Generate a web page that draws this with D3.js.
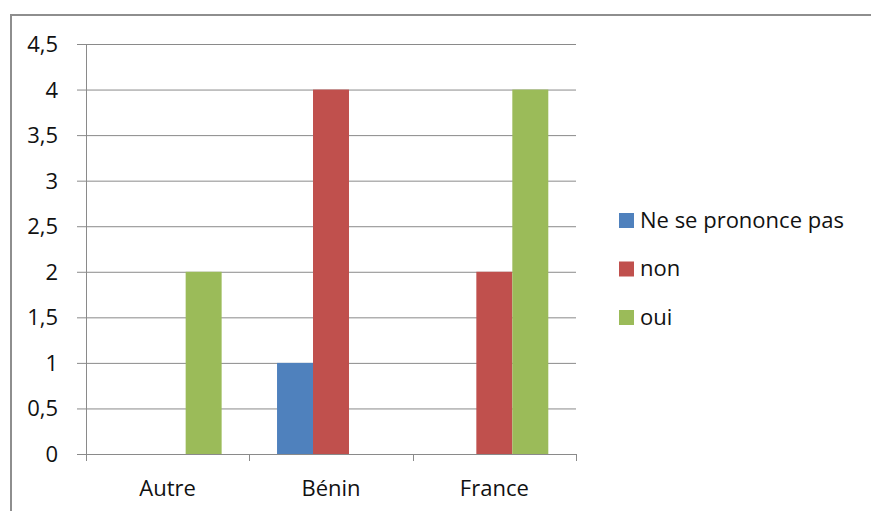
<!DOCTYPE html>
<html>
<head>
<meta charset="utf-8">
<script src="https://cdn.jsdelivr.net/npm/d3@7"></script>
<style>
    body { margin: 0; background: #fff; }
    text { font-family: "Open Sans", "Noto Sans", sans-serif; fill: #111; }
</style>
</head>
<body>
<div id="chart"></div>
<script>
const categories = ['Autre', 'Bénin', 'France'];
const series = ['Ne se prononce pas', 'non', 'oui'];
const values = {
    'Ne se prononce pas': [0, 1, 0],
    'non': [0, 4, 2],
    'oui': [2, 0, 4]
};
const yTicks = [0, 0.5, 1, 1.5, 2, 2.5, 3, 3.5, 4, 4.5];
const colors = ['#4f81bd', '#c0504d', '#9bbb59'];

const width = 871, height = 511;
const plot = { left: 86, right: 576, top: 44, bottom: 454 };
const fontSize = '22px';

let svg = d3.select('#chart').append('svg')
    .attr('width', width)
    .attr('height', height);

// chart frame
svg.append('rect')
    .attr('x', 11)
    .attr('y', 15)
    .attr('width', 880)
    .attr('height', 520)
    .attr('fill', 'none')
    .attr('stroke', '#8e8e8e')
    .attr('stroke-width', 2);

let xScale = d3.scaleBand()
    .domain(categories)
    .range([plot.left, plot.right]);

let xInner = d3.scaleBand()
    .domain(series)
    .range([0, xScale.bandwidth()])
    .paddingOuter(0.77);

let yScale = d3.scaleLinear()
    .domain([0, 4.5])
    .range([plot.bottom, plot.top]);

// gridlines + y ticks
let yAxis = d3.axisLeft(yScale)
    .tickValues(yTicks)
    .tickSize(9)
    .tickPadding(19)
    .tickFormat((d) => d3.format('~g')(d).replace('.', ','));
let yAxisGroup = svg.append('g')
    .attr('transform', `translate(${plot.left},0)`)
    .call(yAxis);
yAxisGroup.select('.domain').remove();
yAxisGroup.selectAll('.tick line')
    .attr('x2', plot.right - plot.left)
    .attr('x1', -9)
    .attr('stroke', '#8a8a8a');
yAxisGroup.selectAll('.tick text')
    .attr('dy', '0.34em')
    .style('font-size', fontSize);

// bars
let groups = svg.append('g').selectAll('g')
    .data(categories)
    .enter()
    .append('g')
    .attr('transform', (d) => `translate(${xScale(d)},0)`);

groups.selectAll('rect')
    .data((d, i) => series.map((s, j) => ({ serie: s, value: values[s][i], color: colors[j] })))
    .enter()
    .append('rect')
    .attr('x', (d) => xInner(d.serie))
    .attr('width', xInner.bandwidth())
    .attr('y', (d) => yScale(d.value))
    .attr('height', (d) => yScale(0) - yScale(d.value))
    .attr('fill', (d) => d.color);

// vertical axis line
svg.append('line')
    .attr('x1', plot.left + 0.5)
    .attr('x2', plot.left + 0.5)
    .attr('y1', plot.top)
    .attr('y2', plot.bottom)
    .attr('stroke', '#8a8a8a');

// x axis
let xAxis = d3.axisBottom(xScale)
    .tickSize(0)
    .tickPadding(26);
let xAxisGroup = svg.append('g')
    .attr('transform', `translate(0,${plot.bottom})`)
    .call(xAxis);
xAxisGroup.select('.domain')
    .attr('stroke', '#8a8a8a');
xAxisGroup.selectAll('.tick text')
    .style('font-size', fontSize);

let edges = categories.map((c) => xScale(c)).concat([plot.right]);
svg.append('g').selectAll('line')
    .data(edges)
    .enter()
    .append('line')
    .attr('x1', (d) => Math.round(d) + 0.5)
    .attr('x2', (d) => Math.round(d) + 0.5)
    .attr('y1', plot.bottom)
    .attr('y2', plot.bottom + 7)
    .attr('stroke', '#8a8a8a');

// legend
let legend = svg.append('g')
    .attr('transform', 'translate(619,220)');
let items = legend.selectAll('g')
    .data(series)
    .enter()
    .append('g')
    .attr('transform', (d, i) => `translate(0,${i * 48.5})`);
items.append('rect')
    .attr('x', 0)
    .attr('y', -7)
    .attr('width', 15)
    .attr('height', 15)
    .attr('fill', (d, i) => colors[i]);
items.append('text')
    .attr('x', 21)
    .attr('y', 0)
    .attr('dy', '0.36em')
    .style('font-size', fontSize)
    .text((d) => d);
</script>
</body>
</html>
